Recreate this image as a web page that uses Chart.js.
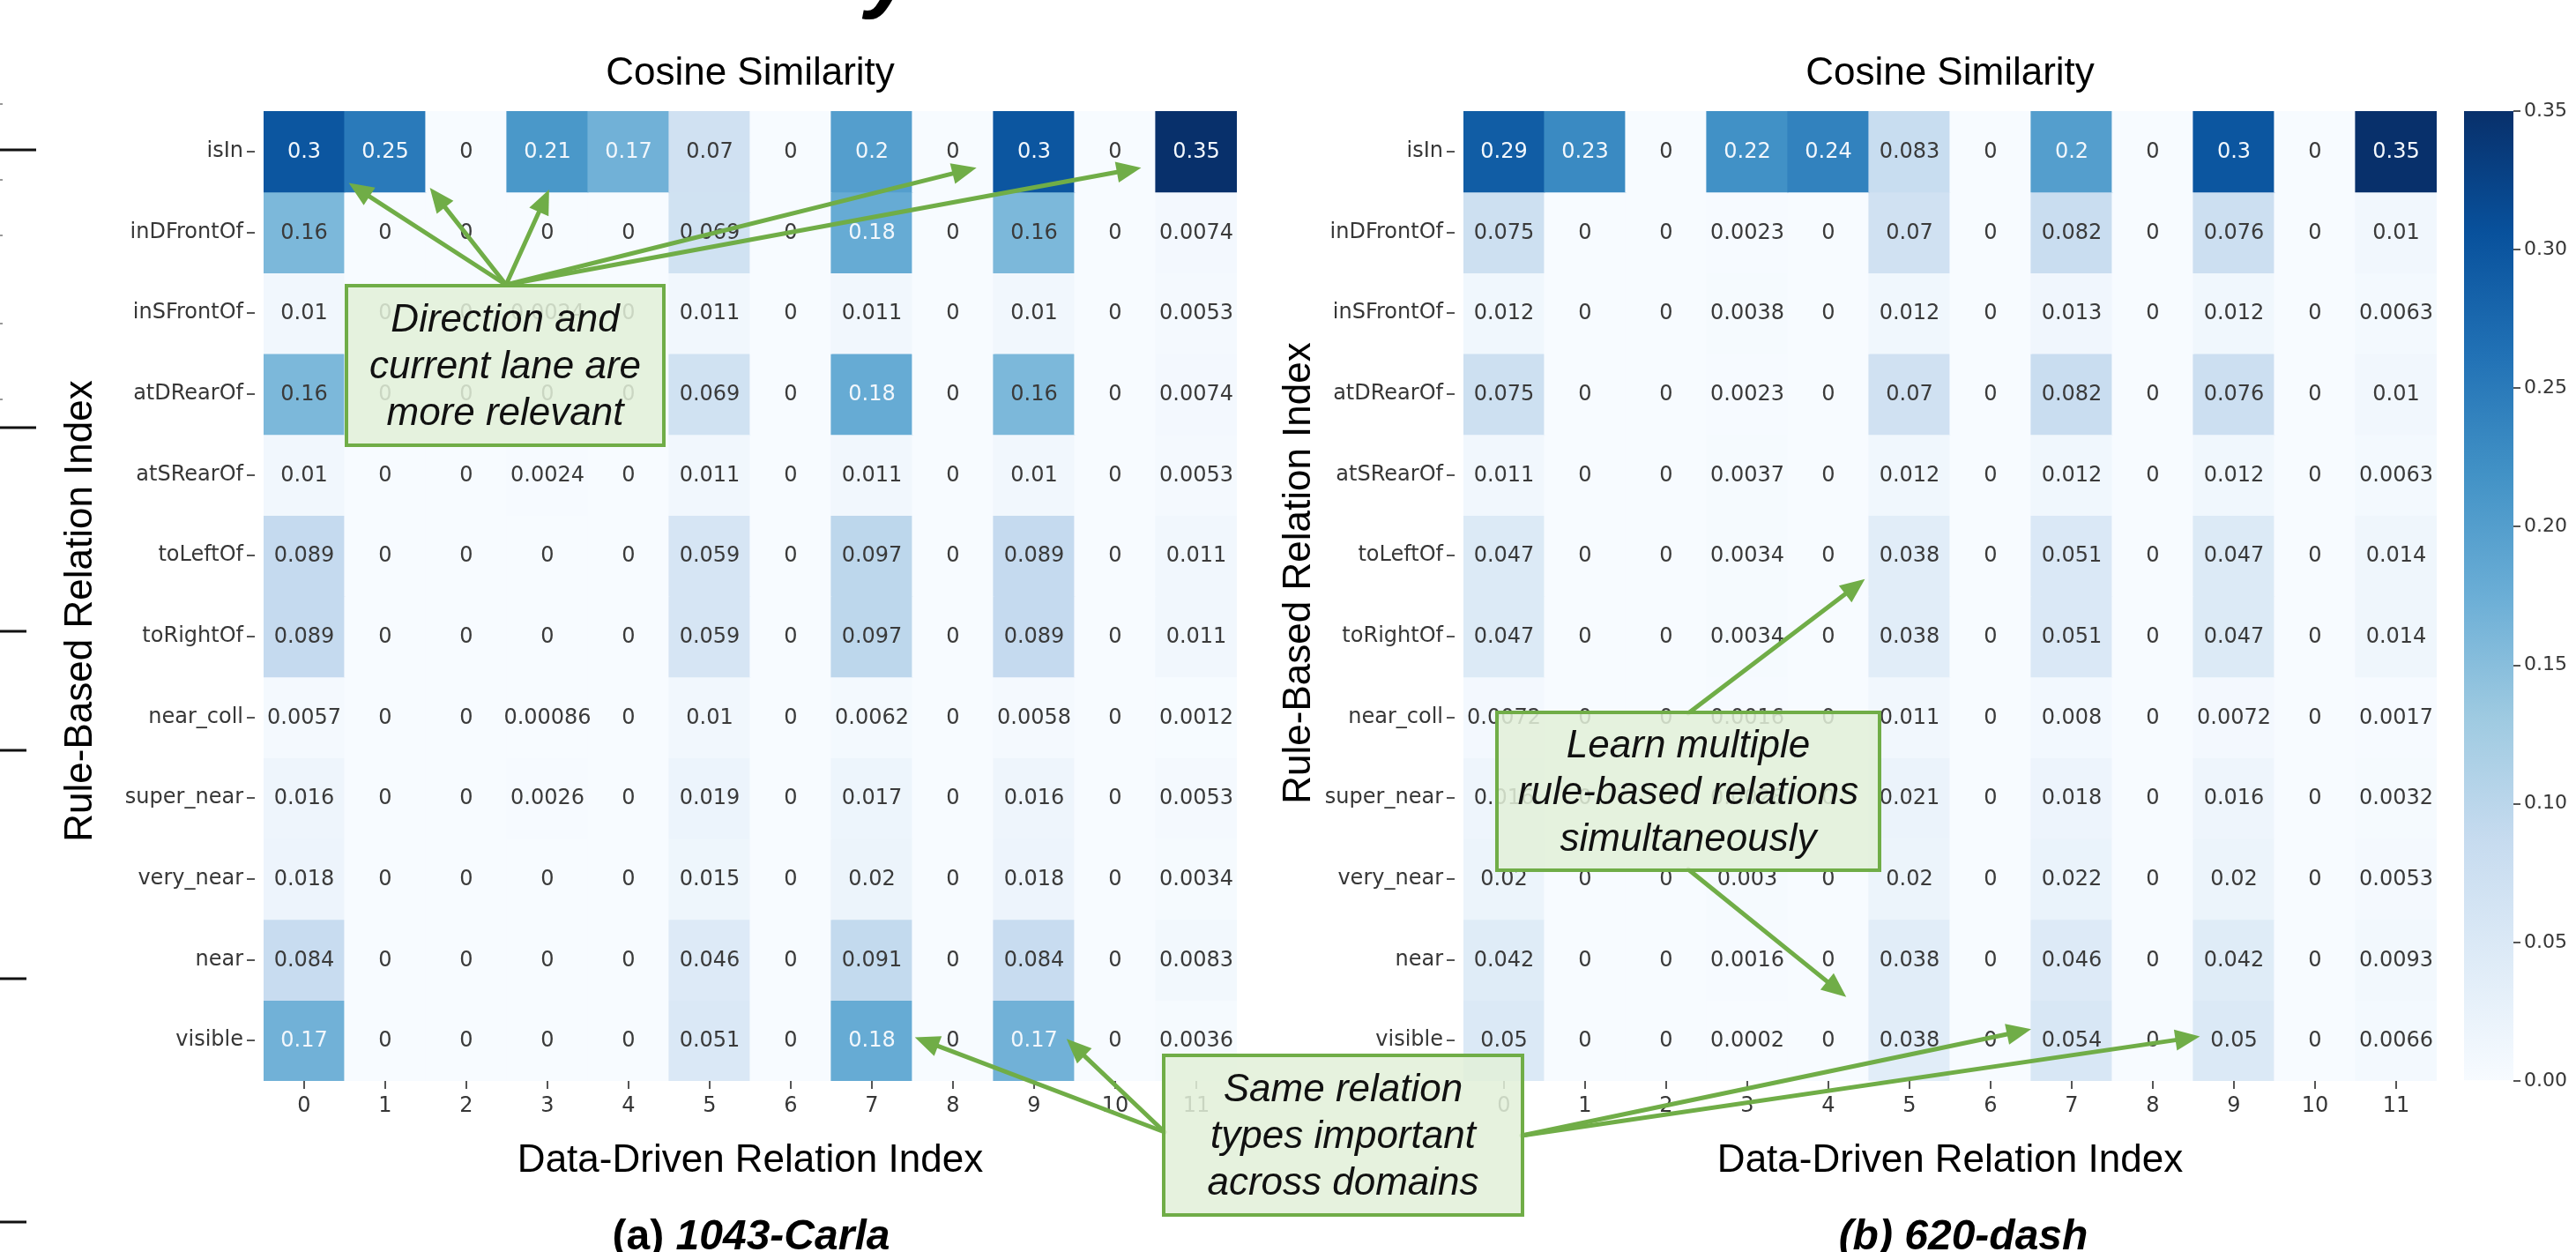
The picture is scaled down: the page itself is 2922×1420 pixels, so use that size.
<!DOCTYPE html>
<html>
<head>
<meta charset="utf-8">
<script src="https://cdn.jsdelivr.net/npm/chart.js@4.4.1/dist/chart.umd.min.js"></script>
<style>
  html, body { margin: 0; padding: 0; background: #ffffff; width: 2922px; height: 1420px; overflow: hidden; }
  body { position: relative; }
  canvas { position: absolute; }
</style>
</head>
<body>
<canvas id="carla" width="1403" height="1300" style="left:0px;top:0px"></canvas>
<canvas id="dash" width="1344" height="1300" style="left:1420px;top:0px"></canvas>
<canvas id="cbar" width="127" height="1245" style="left:2795px;top:0px"></canvas>
<canvas id="notes" width="2922" height="1420" style="left:0px;top:0px"></canvas>
<script>
// ---- data ----------------------------------------------------------------
const ruleRelations = ['isIn', 'inDFrontOf', 'inSFrontOf', 'atDRearOf', 'atSRearOf', 'toLeftOf',
  'toRightOf', 'near_coll', 'super_near', 'very_near', 'near', 'visible'];
const dataRelations = ['0', '1', '2', '3', '4', '5', '6', '7', '8', '9', '10', '11'];

// cosine similarity, rows = rule-based relations, cols = data-driven relation index
const carlaSimilarity = [
  [0.3,    0.25, 0, 0.21,    0.17, 0.07,  0, 0.2,    0, 0.3,    0, 0.35],
  [0.16,   0,    0, 0,       0,    0.069, 0, 0.18,   0, 0.16,   0, 0.0074],
  [0.01,   0,    0, 0.0024,  0,    0.011, 0, 0.011,  0, 0.01,   0, 0.0053],
  [0.16,   0,    0, 0,       0,    0.069, 0, 0.18,   0, 0.16,   0, 0.0074],
  [0.01,   0,    0, 0.0024,  0,    0.011, 0, 0.011,  0, 0.01,   0, 0.0053],
  [0.089,  0,    0, 0,       0,    0.059, 0, 0.097,  0, 0.089,  0, 0.011],
  [0.089,  0,    0, 0,       0,    0.059, 0, 0.097,  0, 0.089,  0, 0.011],
  [0.0057, 0,    0, 0.00086, 0,    0.01,  0, 0.0062, 0, 0.0058, 0, 0.0012],
  [0.016,  0,    0, 0.0026,  0,    0.019, 0, 0.017,  0, 0.016,  0, 0.0053],
  [0.018,  0,    0, 0,       0,    0.015, 0, 0.02,   0, 0.018,  0, 0.0034],
  [0.084,  0,    0, 0,       0,    0.046, 0, 0.091,  0, 0.084,  0, 0.0083],
  [0.17,   0,    0, 0,       0,    0.051, 0, 0.18,   0, 0.17,   0, 0.0036]
];
const dashSimilarity = [
  [0.29,   0.23, 0, 0.22,   0.24, 0.083, 0, 0.2,   0, 0.3,    0, 0.35],
  [0.075,  0,    0, 0.0023, 0,    0.07,  0, 0.082, 0, 0.076,  0, 0.01],
  [0.012,  0,    0, 0.0038, 0,    0.012, 0, 0.013, 0, 0.012,  0, 0.0063],
  [0.075,  0,    0, 0.0023, 0,    0.07,  0, 0.082, 0, 0.076,  0, 0.01],
  [0.011,  0,    0, 0.0037, 0,    0.012, 0, 0.012, 0, 0.012,  0, 0.0063],
  [0.047,  0,    0, 0.0034, 0,    0.038, 0, 0.051, 0, 0.047,  0, 0.014],
  [0.047,  0,    0, 0.0034, 0,    0.038, 0, 0.051, 0, 0.047,  0, 0.014],
  [0.0072, 0,    0, 0.0016, 0,    0.011, 0, 0.008, 0, 0.0072, 0, 0.0017],
  [0.016,  0,    0, 0.0028, 0,    0.021, 0, 0.018, 0, 0.016,  0, 0.0032],
  [0.02,   0,    0, 0.003,  0,    0.02,  0, 0.022, 0, 0.02,   0, 0.0053],
  [0.042,  0,    0, 0.0016, 0,    0.038, 0, 0.046, 0, 0.042,  0, 0.0093],
  [0.05,   0,    0, 0.0002, 0,    0.038, 0, 0.054, 0, 0.05,   0, 0.0066]
];
const colorbarTicks = [0, 0.05, 0.10, 0.15, 0.20, 0.25, 0.30, 0.35];
const VMIN = 0, VMAX = 0.35;

// ---- colour map (matplotlib "Blues") -------------------------------------
const BLUES = ['#f7fbff', '#deebf7', '#c6dbef', '#9ecae1', '#6baed6', '#4292c6', '#2171b5', '#08519c', '#08306b'];
const BLUES_RGB = BLUES.map(h => [1, 3, 5].map(i => parseInt(h.slice(i, i + 2), 16)));
function bluesRgb(t) {
  t = Math.min(1, Math.max(0, t));
  const p = t * (BLUES_RGB.length - 1);
  const i = Math.min(Math.floor(p), BLUES_RGB.length - 2);
  const f = p - i;
  return BLUES_RGB[i].map((c, k) => Math.round(c + (BLUES_RGB[i + 1][k] - c) * f));
}
const rgbStr = c => `rgb(${c[0]},${c[1]},${c[2]})`;
function luminance(c) {
  const lin = c.map(v => { v /= 255; return v <= 0.03928 ? v / 12.92 : Math.pow((v + 0.055) / 1.055, 2.4); });
  return 0.2126 * lin[0] + 0.7152 * lin[1] + 0.0722 * lin[2];
}
const fmt2g = v => v === 0 ? '0' : String(Number(v.toPrecision(2)));

const TICK_FONT = { family: 'DejaVu Sans', size: 24 };
const TICK_COLOR = '#363636';

// writes each cell's value on top of its bar
const cellValues = {
  id: 'cellValues',
  afterDatasetsDraw(chart, args, opts) {
    const ctx = chart.ctx, ys = chart.scales.y;
    ctx.save();
    ctx.font = '24px "DejaVu Sans"';
    ctx.textAlign = 'center';
    ctx.textBaseline = 'middle';
    opts.matrix.forEach((row, r) => {
      const meta = chart.getDatasetMeta(r);
      row.forEach((v, c) => {
        const rgb = bluesRgb((v - VMIN) / (VMAX - VMIN));
        ctx.fillStyle = luminance(rgb) > 0.408 ? '#3a3a3a' : '#f2f7fc';
        ctx.fillText(fmt2g(v), meta.data[c].x, ys.getPixelForValue(r) + 1);
      });
    });
    ctx.restore();
  }
};

function heatmap(id, matrix, yAxisWidth) {
  const datasets = matrix.map((row, r) => ({
    data: row.map(() => [r - 0.5, r + 0.5]),
    backgroundColor: row.map(v => rgbStr(bluesRgb((v - VMIN) / (VMAX - VMIN)))),
    borderWidth: 0,
    inflateAmount: 0.6,
    barPercentage: 1,
    categoryPercentage: 1,
    grouped: false
  }));
  return new Chart(document.getElementById(id), {
    type: 'bar',
    data: { labels: dataRelations, datasets },
    plugins: [cellValues],
    options: {
      responsive: false,
      animation: false,
      events: [],
      layout: { padding: { top: 126, left: 0, right: 0, bottom: 0 } },
      plugins: { legend: { display: false }, tooltip: { enabled: false }, cellValues: { matrix } },
      scales: {
        x: {
          type: 'category',
          afterFit: s => { s.height = 74; },
          ticks: { font: TICK_FONT, color: TICK_COLOR, padding: 5, maxRotation: 0, autoSkip: false },
          grid: { offset: false, drawOnChartArea: false, drawTicks: true, tickLength: 9, color: '#555555', lineWidth: 2 },
          border: { display: false }
        },
        y: {
          type: 'linear',
          min: -0.5, max: 11.5, reverse: true,
          afterBuildTicks: s => { s.ticks = ruleRelations.map((_, i) => ({ value: i })); },
          afterFit: s => { s.width = yAxisWidth; },
          ticks: { callback: v => ruleRelations[v], font: TICK_FONT, color: TICK_COLOR, padding: 0, autoSkip: false },
          grid: {
            drawOnChartArea: false, drawTicks: true, tickLength: 23, color: '#555555', lineWidth: 2,
            tickBorderDash: [0, 4, 9, 100]
          },
          border: { display: false }
        }
      }
    }
  });
}

const carlaChart = heatmap('carla', carlaSimilarity, 299);
const dashChart = heatmap('dash', dashSimilarity, 240);

// shared colour bar
new Chart(document.getElementById('cbar'), {
  type: 'bar',
  data: {
    labels: [''],
    datasets: [{
      data: [[VMIN, VMAX]],
      backgroundColor: c => {
        const a = c.chart.chartArea;
        if (!a) return BLUES[4];
        const g = c.chart.ctx.createLinearGradient(0, a.bottom, 0, a.top);
        BLUES.forEach((col, i) => g.addColorStop(i / (BLUES.length - 1), col));
        return g;
      },
      borderWidth: 0, barPercentage: 1, categoryPercentage: 1
    }]
  },
  options: {
    responsive: false,
    animation: false,
    events: [],
    layout: { padding: { top: 126, bottom: 19, left: 0, right: 0 } },
    plugins: { legend: { display: false }, tooltip: { enabled: false } },
    scales: {
      x: { display: false },
      y: {
        position: 'right', min: VMIN, max: VMAX,
        afterBuildTicks: s => { s.ticks = colorbarTicks.map(v => ({ value: v })); },
        afterFit: s => { s.width = 71; },
        ticks: { callback: v => v.toFixed(2), font: { family: 'DejaVu Sans', size: 22 }, color: TICK_COLOR, padding: 4 },
        grid: { drawOnChartArea: false, drawTicks: true, tickLength: 8, color: '#555555', lineWidth: 2 },
        border: { display: false }
      }
    }
  }
});

// ---- titles, callouts and arrows ------------------------------------------
const panels = {
  carla: { chart: carlaChart, left: 0 },
  dash: { chart: dashChart, left: 1420 }
};
// page position of a point given in cell units of a panel
function cellPoint(panel, col, row) {
  const p = panels[panel];
  return [p.left + p.chart.scales.x.getPixelForValue(col), p.chart.scales.y.getPixelForValue(row)];
}

const callouts = [
  {
    lines: ['Direction and', 'current lane are', 'more relevant'],
    box: [393, 324, 360, 181],
    arrows: [
      { from: [574, 323], panel: 'carla', to: [0.55, 0.39] },
      { from: [574, 323], panel: 'carla', to: [1.55, 0.45] },
      { from: [574, 323], panel: 'carla', to: [3.02, 0.47] },
      { from: [574, 323], panel: 'carla', to: [8.29, 0.2] },
      { from: [574, 323], panel: 'carla', to: [10.32, 0.2] }
    ]
  },
  {
    lines: ['Learn multiple', 'rule-based relations', 'simultaneously'],
    box: [1698, 808, 434, 179],
    arrows: [
      { from: [1915, 809], panel: 'dash', to: [4.45, 5.29] },
      { from: [1915, 986], panel: 'dash', to: [4.22, 10.46] }
    ]
  },
  {
    lines: ['Same relation', 'types important', 'across domains'],
    box: [1320, 1197, 407, 181],
    arrows: [
      { from: [1321, 1284], panel: 'carla', to: [7.53, 10.96] },
      { from: [1321, 1284], panel: 'carla', to: [9.4, 10.98] },
      { from: [1726, 1288], panel: 'dash', to: [6.5, 10.86] },
      { from: [1726, 1288], panel: 'dash', to: [8.58, 10.95] }
    ]
  }
];

const nc = document.getElementById('notes').getContext('2d');

function drawArrow(ctx, x0, y0, x1, y1) {
  const a = Math.atan2(y1 - y0, x1 - x0), L = 28, W = 12;
  const bx = x1 - L * Math.cos(a), by = y1 - L * Math.sin(a);
  ctx.beginPath();
  ctx.moveTo(x0, y0);
  ctx.lineTo(bx, by);
  ctx.stroke();
  ctx.beginPath();
  ctx.moveTo(x1, y1);
  ctx.lineTo(bx + W * Math.sin(a), by - W * Math.cos(a));
  ctx.lineTo(bx - W * Math.sin(a), by + W * Math.cos(a));
  ctx.closePath();
  ctx.fill();
}

// panel titles and axis titles
nc.fillStyle = '#000000';
nc.textAlign = 'center';
nc.textBaseline = 'middle';
nc.font = '44px "Liberation Sans"';
[851, 2212].forEach(cx => {
  nc.fillText('Cosine Similarity', cx, 84);
  nc.fillText('Data-Driven Relation Index', cx, 1317);
});
[[92, 693], [1474, 650]].forEach(([x, y]) => {
  nc.save();
  nc.translate(x, y);
  nc.rotate(-Math.PI / 2);
  nc.fillText('Rule-Based Relation Index', 0, 0);
  nc.restore();
});

// sub-captions
nc.textBaseline = 'alphabetic';
nc.textAlign = 'left';
(function () {
  const a1 = '(a) ', a2 = '1043-Carla';
  nc.font = 'bold 48px "Liberation Sans"';
  const w1 = nc.measureText(a1).width;
  nc.font = 'italic bold 48px "Liberation Sans"';
  const w2 = nc.measureText(a2).width;
  const x0 = 852 - (w1 + w2) / 2;
  nc.font = 'bold 48px "Liberation Sans"';
  nc.fillText(a1, x0, 1417);
  nc.font = 'italic bold 48px "Liberation Sans"';
  nc.fillText(a2, x0 + w1, 1417);
  nc.textAlign = 'center';
  nc.fillText('(b) 620-dash', 2227, 1417);
})();

// heading above the panels (only its descender reaches into view)
nc.textAlign = 'left';
nc.font = 'italic bold 100px "Liberation Sans"';
nc.fillText('y', 982, 1);

// page-edge rules
nc.fillStyle = '#111111';
[[170, 41], [485, 41], [716, 30], [851, 30], [1110, 30], [1386, 30]].forEach(([y, w]) => nc.fillRect(0, y - 1.5, w, 3));
nc.fillStyle = '#999999';
[118, 204, 267, 367, 453].forEach(y => nc.fillRect(0, y - 1, 3, 2));

// arrows, then the callout boxes on top
nc.strokeStyle = '#70ad47';
nc.fillStyle = '#70ad47';
nc.lineWidth = 5;
nc.lineCap = 'round';
callouts.forEach(c => c.arrows.forEach(a => {
  const [tx, ty] = cellPoint(a.panel, a.to[0], a.to[1]);
  drawArrow(nc, a.from[0], a.from[1], tx, ty);
}));
callouts.forEach(c => {
  const [x, y, w, h] = c.box;
  nc.fillStyle = 'rgba(226,240,217,0.86)';
  nc.fillRect(x, y, w, h);
  nc.strokeStyle = '#70ad47';
  nc.lineWidth = 4;
  nc.strokeRect(x, y, w, h);
  nc.fillStyle = '#111111';
  nc.font = 'italic 44px "Liberation Sans"';
  nc.textAlign = 'center';
  nc.textBaseline = 'middle';
  const lh = 53;
  c.lines.forEach((t, i) => nc.fillText(t, x + w / 2, y + h / 2 + (i - 1) * lh + 2));
});
</script>
</body>
</html>
